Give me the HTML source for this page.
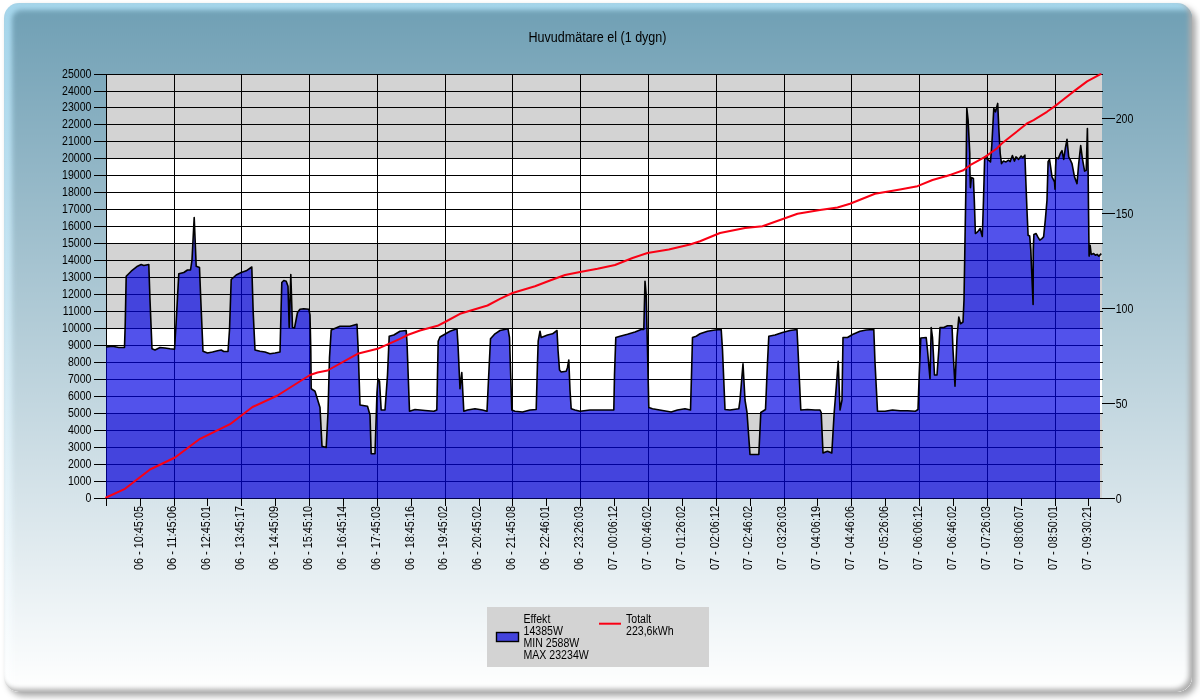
<!DOCTYPE html>
<html><head><meta charset="utf-8"><title>Huvudmätare el (1 dygn)</title>
<style>
html,body{margin:0;padding:0;background:#fff;}
body{width:1200px;height:700px;position:relative;overflow:hidden;font-family:"Liberation Sans",sans-serif;}
#frame{position:absolute;left:4px;top:3px;width:1188px;height:689px;border-radius:15px;overflow:hidden;
 background:linear-gradient(#a5d6ec,#ffffff);}
#shadow{position:absolute;left:4px;top:3px;width:1188px;height:689px;border-radius:15px;
 box-shadow:4px 4px 6px rgba(0,0,0,0.35);}
#inner{position:absolute;left:7.5px;top:7px;right:-30px;bottom:-30px;border-radius:9px 0 0 0;
 background:#fff linear-gradient(#6f9fb4,#ffffff) 0 -7px/100% 689px no-repeat;filter:blur(2.8px);}
#edge{position:absolute;left:4px;top:3px;width:1188px;height:689px;border-radius:15px;
 box-shadow:inset -3px -3px 5px rgb(172,172,172);}
svg{position:absolute;left:0;top:0;}
text{font-family:"Liberation Sans",sans-serif;fill:#000;}
.ax{font-size:12.3px;}
</style></head><body>
<div id="shadow"></div><div id="frame"><div id="inner"></div></div><div id="edge"></div>
<svg width="1200" height="700" viewBox="0 0 1200 700">
<rect x="106" y="74.0" width="996" height="84.0" fill="#d3d3d3"/>
<rect x="106" y="158.0" width="996" height="85.0" fill="#ffffff"/>
<rect x="106" y="243.0" width="996" height="85.0" fill="#d3d3d3"/>
<rect x="106" y="328.0" width="996" height="85.0" fill="#ffffff"/>
<rect x="106" y="413.0" width="996" height="86.0" fill="#d3d3d3"/>
<path d="M94 498.5H1103M94 481.5H1103M94 464.5H1103M94 447.5H1103M94 430.5H1103M94 413.5H1103M94 396.5H1103M94 379.5H1103M94 362.5H1103M94 345.5H1103M94 328.5H1103M94 311.5H1103M94 294.5H1103M94 277.5H1103M94 260.5H1103M94 243.5H1103M94 226.5H1103M94 209.5H1103M94 192.5H1103M94 175.5H1103M94 158.5H1103M94 141.5H1103M94 124.5H1103M94 107.5H1103M94 91.5H1103M94 74.5H1103M106.5 74V499M174.5 74V499M241.5 74V499M309.5 74V499M377.5 74V499M445.5 74V499M512.5 74V499M580.5 74V499M648.5 74V499M716.5 74V499M784.5 74V499M851.5 74V499M919.5 74V499M987.5 74V499M1055.5 74V499" stroke="#000" stroke-width="1" fill="none" shape-rendering="crispEdges"/>
<clipPath id="c"><rect x="106" y="70" width="994" height="429"/></clipPath>
<polygon points="106.2,498.5 106.2,347.0 112.5,346.2 118.8,347.5 124.5,347.5 125.2,325.0 126.2,276.2 131.2,271.2 137.5,266.2 141.2,264.5 143.8,265.5 148.8,264.5 150.0,300.0 152.0,348.8 155.0,350.0 160.0,347.5 165.0,348.0 170.0,348.8 174.5,349.2 176.0,325.0 177.5,297.5 178.8,273.8 183.8,272.5 187.5,270.0 190.5,270.0 192.0,260.0 194.2,217.5 196.2,266.2 199.5,267.5 200.8,300.0 203.0,351.2 207.5,353.0 212.5,352.0 217.5,350.8 221.2,350.0 223.8,351.5 228.0,351.5 229.5,330.0 231.2,279.5 236.2,275.0 241.2,272.5 246.2,270.8 251.8,267.0 253.2,312.5 255.0,350.0 260.0,351.2 265.0,352.0 270.0,353.8 275.0,353.0 280.0,352.0 281.0,312.5 281.8,282.5 283.8,280.5 286.2,281.2 288.0,286.2 289.2,327.5 290.8,274.5 292.5,327.5 294.5,328.0 297.5,312.5 300.0,309.2 303.8,308.8 308.8,309.2 310.0,315.0 310.8,350.0 311.2,388.8 315.0,391.2 320.0,407.5 322.0,446.2 326.2,447.5 328.0,412.5 329.5,357.5 331.2,330.0 340.0,326.2 350.0,326.2 357.0,324.2 358.2,350.0 360.0,405.0 367.5,406.2 370.0,415.0 371.2,453.8 375.0,453.8 377.0,392.5 378.0,378.8 379.5,381.2 381.2,410.0 385.0,410.0 387.5,375.0 389.2,336.2 393.8,335.0 400.0,331.2 406.2,330.5 407.0,342.5 409.5,411.2 415.0,409.5 425.0,410.5 433.8,411.2 436.8,410.0 437.5,375.0 438.2,341.2 440.0,337.0 450.0,331.2 457.0,328.8 458.0,345.0 460.0,388.8 461.8,372.5 463.8,411.2 467.5,410.0 475.0,408.8 482.5,410.0 487.0,411.2 488.0,390.0 490.5,338.8 495.0,333.8 500.0,330.5 508.0,328.8 509.5,337.5 511.8,410.0 515.0,411.2 522.5,412.0 530.0,410.0 536.2,409.5 537.5,362.5 538.2,341.2 540.0,331.2 541.2,337.5 547.5,335.0 552.5,333.8 557.0,330.5 558.0,350.0 559.5,370.0 561.2,372.0 566.2,371.2 567.5,367.5 568.8,360.0 570.0,390.0 571.2,408.8 575.0,410.0 580.0,411.2 590.0,410.0 600.0,410.0 607.5,410.0 613.8,410.0 614.5,375.0 615.8,337.5 620.0,336.2 627.5,334.2 635.0,332.0 641.2,329.5 643.8,329.5 645.0,281.2 646.2,295.0 647.5,350.0 648.8,407.5 652.5,408.8 662.5,410.5 671.2,412.0 677.5,410.0 685.0,408.8 690.5,410.0 691.5,375.0 692.5,337.5 696.2,336.2 700.0,333.8 707.5,331.2 715.0,330.0 721.2,329.5 722.5,350.0 725.0,409.5 730.0,410.0 738.8,408.8 740.0,400.0 743.0,363.8 745.0,400.0 747.0,412.5 750.0,454.5 758.8,454.5 760.8,412.5 765.5,409.5 767.5,362.5 768.8,336.2 775.0,335.0 782.5,332.5 790.0,330.5 797.0,329.5 798.0,350.0 800.8,410.0 807.5,409.5 815.0,410.0 820.0,410.0 821.2,412.5 823.0,453.0 827.5,451.2 831.8,453.0 834.2,412.5 836.2,387.5 838.2,361.2 840.0,410.0 842.0,400.0 843.0,337.5 847.5,337.5 852.5,334.5 860.0,331.2 866.2,330.0 873.8,329.5 875.0,362.5 877.5,411.2 885.0,411.2 892.5,410.0 900.0,410.8 907.5,410.8 915.5,411.2 918.0,409.5 919.2,375.0 920.8,338.0 926.2,337.5 927.5,350.0 930.0,378.8 931.2,327.5 932.5,337.5 934.5,375.0 937.0,375.0 938.8,350.0 940.0,327.5 943.8,327.5 947.5,325.8 952.0,325.8 953.0,350.0 955.0,386.2 957.0,337.5 958.8,317.0 960.5,323.8 963.0,322.0 964.0,300.0 965.9,187.0 966.8,108.1 968.1,120.1 969.8,153.5 969.8,166.7 970.4,187.6 971.4,177.6 973.4,178.4 974.3,200.1 975.4,233.5 977.6,231.9 980.1,228.5 982.3,236.5 983.5,200.1 984.6,160.0 985.1,156.7 987.6,159.4 990.5,161.9 991.8,145.2 993.8,108.4 995.5,111.8 997.7,103.4 998.8,128.5 1000.2,153.5 1001.5,163.6 1003.5,161.1 1006.0,161.9 1008.5,160.2 1010.2,161.6 1012.4,155.5 1014.4,161.1 1016.0,156.9 1018.6,159.4 1021.1,156.0 1022.7,157.7 1024.9,155.2 1025.6,175.1 1026.9,208.5 1028.1,235.2 1029.7,236.0 1030.8,250.3 1033.1,304.4 1033.3,250.3 1033.9,234.4 1036.1,233.5 1037.8,236.9 1039.8,240.2 1041.9,238.6 1043.6,236.9 1045.3,220.2 1047.0,200.1 1048.1,161.7 1049.5,159.4 1050.6,166.9 1052.0,176.9 1054.5,181.9 1055.0,189.3 1055.6,166.7 1056.1,157.7 1058.3,158.6 1060.3,153.5 1062.0,150.7 1063.7,159.4 1065.3,148.5 1067.0,139.3 1068.7,156.9 1070.4,160.2 1072.0,163.6 1074.5,176.9 1077.0,183.6 1078.7,163.6 1080.7,145.5 1082.4,158.6 1084.6,171.1 1086.2,170.3 1087.4,128.5 1088.1,170.3 1088.4,200.1 1089.1,256.1 1090.1,245.2 1091.2,254.4 1093.7,253.6 1095.4,255.3 1097.1,254.4 1098.8,256.1 1101.3,253.6 1101.3,498.5" fill="rgba(0,0,225,0.68)" stroke="none" clip-path="url(#c)"/>
<polyline points="106.2,347.0 112.5,346.2 118.8,347.5 124.5,347.5 125.2,325.0 126.2,276.2 131.2,271.2 137.5,266.2 141.2,264.5 143.8,265.5 148.8,264.5 150.0,300.0 152.0,348.8 155.0,350.0 160.0,347.5 165.0,348.0 170.0,348.8 174.5,349.2 176.0,325.0 177.5,297.5 178.8,273.8 183.8,272.5 187.5,270.0 190.5,270.0 192.0,260.0 194.2,217.5 196.2,266.2 199.5,267.5 200.8,300.0 203.0,351.2 207.5,353.0 212.5,352.0 217.5,350.8 221.2,350.0 223.8,351.5 228.0,351.5 229.5,330.0 231.2,279.5 236.2,275.0 241.2,272.5 246.2,270.8 251.8,267.0 253.2,312.5 255.0,350.0 260.0,351.2 265.0,352.0 270.0,353.8 275.0,353.0 280.0,352.0 281.0,312.5 281.8,282.5 283.8,280.5 286.2,281.2 288.0,286.2 289.2,327.5 290.8,274.5 292.5,327.5 294.5,328.0 297.5,312.5 300.0,309.2 303.8,308.8 308.8,309.2 310.0,315.0 310.8,350.0 311.2,388.8 315.0,391.2 320.0,407.5 322.0,446.2 326.2,447.5 328.0,412.5 329.5,357.5 331.2,330.0 340.0,326.2 350.0,326.2 357.0,324.2 358.2,350.0 360.0,405.0 367.5,406.2 370.0,415.0 371.2,453.8 375.0,453.8 377.0,392.5 378.0,378.8 379.5,381.2 381.2,410.0 385.0,410.0 387.5,375.0 389.2,336.2 393.8,335.0 400.0,331.2 406.2,330.5 407.0,342.5 409.5,411.2 415.0,409.5 425.0,410.5 433.8,411.2 436.8,410.0 437.5,375.0 438.2,341.2 440.0,337.0 450.0,331.2 457.0,328.8 458.0,345.0 460.0,388.8 461.8,372.5 463.8,411.2 467.5,410.0 475.0,408.8 482.5,410.0 487.0,411.2 488.0,390.0 490.5,338.8 495.0,333.8 500.0,330.5 508.0,328.8 509.5,337.5 511.8,410.0 515.0,411.2 522.5,412.0 530.0,410.0 536.2,409.5 537.5,362.5 538.2,341.2 540.0,331.2 541.2,337.5 547.5,335.0 552.5,333.8 557.0,330.5 558.0,350.0 559.5,370.0 561.2,372.0 566.2,371.2 567.5,367.5 568.8,360.0 570.0,390.0 571.2,408.8 575.0,410.0 580.0,411.2 590.0,410.0 600.0,410.0 607.5,410.0 613.8,410.0 614.5,375.0 615.8,337.5 620.0,336.2 627.5,334.2 635.0,332.0 641.2,329.5 643.8,329.5 645.0,281.2 646.2,295.0 647.5,350.0 648.8,407.5 652.5,408.8 662.5,410.5 671.2,412.0 677.5,410.0 685.0,408.8 690.5,410.0 691.5,375.0 692.5,337.5 696.2,336.2 700.0,333.8 707.5,331.2 715.0,330.0 721.2,329.5 722.5,350.0 725.0,409.5 730.0,410.0 738.8,408.8 740.0,400.0 743.0,363.8 745.0,400.0 747.0,412.5 750.0,454.5 758.8,454.5 760.8,412.5 765.5,409.5 767.5,362.5 768.8,336.2 775.0,335.0 782.5,332.5 790.0,330.5 797.0,329.5 798.0,350.0 800.8,410.0 807.5,409.5 815.0,410.0 820.0,410.0 821.2,412.5 823.0,453.0 827.5,451.2 831.8,453.0 834.2,412.5 836.2,387.5 838.2,361.2 840.0,410.0 842.0,400.0 843.0,337.5 847.5,337.5 852.5,334.5 860.0,331.2 866.2,330.0 873.8,329.5 875.0,362.5 877.5,411.2 885.0,411.2 892.5,410.0 900.0,410.8 907.5,410.8 915.5,411.2 918.0,409.5 919.2,375.0 920.8,338.0 926.2,337.5 927.5,350.0 930.0,378.8 931.2,327.5 932.5,337.5 934.5,375.0 937.0,375.0 938.8,350.0 940.0,327.5 943.8,327.5 947.5,325.8 952.0,325.8 953.0,350.0 955.0,386.2 957.0,337.5 958.8,317.0 960.5,323.8 963.0,322.0 964.0,300.0 965.9,187.0 966.8,108.1 968.1,120.1 969.8,153.5 969.8,166.7 970.4,187.6 971.4,177.6 973.4,178.4 974.3,200.1 975.4,233.5 977.6,231.9 980.1,228.5 982.3,236.5 983.5,200.1 984.6,160.0 985.1,156.7 987.6,159.4 990.5,161.9 991.8,145.2 993.8,108.4 995.5,111.8 997.7,103.4 998.8,128.5 1000.2,153.5 1001.5,163.6 1003.5,161.1 1006.0,161.9 1008.5,160.2 1010.2,161.6 1012.4,155.5 1014.4,161.1 1016.0,156.9 1018.6,159.4 1021.1,156.0 1022.7,157.7 1024.9,155.2 1025.6,175.1 1026.9,208.5 1028.1,235.2 1029.7,236.0 1030.8,250.3 1033.1,304.4 1033.3,250.3 1033.9,234.4 1036.1,233.5 1037.8,236.9 1039.8,240.2 1041.9,238.6 1043.6,236.9 1045.3,220.2 1047.0,200.1 1048.1,161.7 1049.5,159.4 1050.6,166.9 1052.0,176.9 1054.5,181.9 1055.0,189.3 1055.6,166.7 1056.1,157.7 1058.3,158.6 1060.3,153.5 1062.0,150.7 1063.7,159.4 1065.3,148.5 1067.0,139.3 1068.7,156.9 1070.4,160.2 1072.0,163.6 1074.5,176.9 1077.0,183.6 1078.7,163.6 1080.7,145.5 1082.4,158.6 1084.6,171.1 1086.2,170.3 1087.4,128.5 1088.1,170.3 1088.4,200.1 1089.1,256.1 1090.1,245.2 1091.2,254.4 1093.7,253.6 1095.4,255.3 1097.1,254.4 1098.8,256.1 1101.3,253.6" fill="none" stroke="#000" stroke-width="1.6" stroke-linejoin="round"/>
<polyline points="106.2,497.5 125.0,488.8 150.0,469.5 175.0,457.5 200.0,438.8 230.0,424.2 252.5,407.0 277.5,395.5 310.0,375.0 317.5,372.5 327.5,370.5 357.5,353.8 377.5,348.8 400.0,338.8 407.5,335.0 420.0,330.5 437.5,325.8 445.0,322.0 460.0,313.8 472.5,310.0 487.5,305.5 500.0,298.8 512.5,293.0 535.0,286.2 550.0,280.5 565.0,275.0 580.0,272.0 597.5,268.8 615.0,265.0 632.5,258.0 647.5,253.0 668.8,249.5 690.0,244.5 700.0,241.2 720.0,233.0 745.0,228.0 762.5,226.2 780.0,220.0 797.5,213.8 820.0,210.0 837.5,207.5 850.0,203.8 875.0,193.8 900.0,189.5 917.5,186.2 932.5,180.0 950.0,175.0 946.7,176.1 963.4,170.3 970.1,165.2 985.1,156.9 996.8,148.5 1001.8,143.5 1013.5,134.3 1026.9,123.5 1033.6,120.1 1047.0,111.8 1055.3,105.9 1063.7,99.2 1075.4,90.1 1087.1,81.4 1100.6,74.2" fill="none" stroke="#fa0014" stroke-width="2" stroke-linejoin="round" stroke-linecap="round"/>
<path d="M106.5 498V506M140.5 498V506M174.5 498V506M207.5 498V506M241.5 498V506M275.5 498V506M309.5 498V506M343.5 498V506M377.5 498V506M411.5 498V506M445.5 498V506M479.5 498V506M512.5 498V506M546.5 498V506M580.5 498V506M614.5 498V506M648.5 498V506M682.5 498V506M716.5 498V506M750.5 498V506M784.5 498V506M817.5 498V506M851.5 498V506M885.5 498V506M919.5 498V506M953.5 498V506M987.5 498V506M1021.5 498V506M1055.5 498V506M1088.5 498V506M1102 498.5H1115M1102 403.5H1115M1102 308.5H1115M1102 213.5H1115M1102 118.5H1115" stroke="#000" stroke-width="1" fill="none" shape-rendering="crispEdges"/>
<text class="ax" transform="translate(91.5,502.3) scale(0.86,1)" text-anchor="end">0</text>
<text class="ax" transform="translate(91.5,485.3) scale(0.86,1)" text-anchor="end">1000</text>
<text class="ax" transform="translate(91.5,468.3) scale(0.86,1)" text-anchor="end">2000</text>
<text class="ax" transform="translate(91.5,451.3) scale(0.86,1)" text-anchor="end">3000</text>
<text class="ax" transform="translate(91.5,434.3) scale(0.86,1)" text-anchor="end">4000</text>
<text class="ax" transform="translate(91.5,417.3) scale(0.86,1)" text-anchor="end">5000</text>
<text class="ax" transform="translate(91.5,400.3) scale(0.86,1)" text-anchor="end">6000</text>
<text class="ax" transform="translate(91.5,383.3) scale(0.86,1)" text-anchor="end">7000</text>
<text class="ax" transform="translate(91.5,366.3) scale(0.86,1)" text-anchor="end">8000</text>
<text class="ax" transform="translate(91.5,349.3) scale(0.86,1)" text-anchor="end">9000</text>
<text class="ax" transform="translate(91.5,332.3) scale(0.86,1)" text-anchor="end">10000</text>
<text class="ax" transform="translate(91.5,315.3) scale(0.86,1)" text-anchor="end">11000</text>
<text class="ax" transform="translate(91.5,298.3) scale(0.86,1)" text-anchor="end">12000</text>
<text class="ax" transform="translate(91.5,281.3) scale(0.86,1)" text-anchor="end">13000</text>
<text class="ax" transform="translate(91.5,264.3) scale(0.86,1)" text-anchor="end">14000</text>
<text class="ax" transform="translate(91.5,247.3) scale(0.86,1)" text-anchor="end">15000</text>
<text class="ax" transform="translate(91.5,230.3) scale(0.86,1)" text-anchor="end">16000</text>
<text class="ax" transform="translate(91.5,213.3) scale(0.86,1)" text-anchor="end">17000</text>
<text class="ax" transform="translate(91.5,196.3) scale(0.86,1)" text-anchor="end">18000</text>
<text class="ax" transform="translate(91.5,179.3) scale(0.86,1)" text-anchor="end">19000</text>
<text class="ax" transform="translate(91.5,162.3) scale(0.86,1)" text-anchor="end">20000</text>
<text class="ax" transform="translate(91.5,145.3) scale(0.86,1)" text-anchor="end">21000</text>
<text class="ax" transform="translate(91.5,128.3) scale(0.86,1)" text-anchor="end">22000</text>
<text class="ax" transform="translate(91.5,111.3) scale(0.86,1)" text-anchor="end">23000</text>
<text class="ax" transform="translate(91.5,95.3) scale(0.86,1)" text-anchor="end">24000</text>
<text class="ax" transform="translate(91.5,78.3) scale(0.86,1)" text-anchor="end">25000</text>
<text class="ax" transform="translate(1115.7,503.3) scale(0.86,1)">0</text>
<text class="ax" transform="translate(1115.7,408.3) scale(0.86,1)">50</text>
<text class="ax" transform="translate(1115.7,313.3) scale(0.86,1)">100</text>
<text class="ax" transform="translate(1115.7,218.3) scale(0.86,1)">150</text>
<text class="ax" transform="translate(1115.7,123.3) scale(0.86,1)">200</text>
<text class="ax" transform="translate(143.0,570) rotate(-90)" textLength="64" lengthAdjust="spacingAndGlyphs">06 - 10:45:05</text>
<text class="ax" transform="translate(176.0,570) rotate(-90)" textLength="64" lengthAdjust="spacingAndGlyphs">06 - 11:45:06</text>
<text class="ax" transform="translate(210.0,570) rotate(-90)" textLength="64" lengthAdjust="spacingAndGlyphs">06 - 12:45:01</text>
<text class="ax" transform="translate(244.0,570) rotate(-90)" textLength="64" lengthAdjust="spacingAndGlyphs">06 - 13:45:17</text>
<text class="ax" transform="translate(278.0,570) rotate(-90)" textLength="64" lengthAdjust="spacingAndGlyphs">06 - 14:45:09</text>
<text class="ax" transform="translate(312.0,570) rotate(-90)" textLength="64" lengthAdjust="spacingAndGlyphs">06 - 15:45:10</text>
<text class="ax" transform="translate(346.0,570) rotate(-90)" textLength="64" lengthAdjust="spacingAndGlyphs">06 - 16:45:14</text>
<text class="ax" transform="translate(380.0,570) rotate(-90)" textLength="64" lengthAdjust="spacingAndGlyphs">06 - 17:45:03</text>
<text class="ax" transform="translate(414.0,570) rotate(-90)" textLength="64" lengthAdjust="spacingAndGlyphs">06 - 18:45:16</text>
<text class="ax" transform="translate(447.0,570) rotate(-90)" textLength="64" lengthAdjust="spacingAndGlyphs">06 - 19:45:02</text>
<text class="ax" transform="translate(481.0,570) rotate(-90)" textLength="64" lengthAdjust="spacingAndGlyphs">06 - 20:45:02</text>
<text class="ax" transform="translate(515.0,570) rotate(-90)" textLength="64" lengthAdjust="spacingAndGlyphs">06 - 21:45:08</text>
<text class="ax" transform="translate(549.0,570) rotate(-90)" textLength="64" lengthAdjust="spacingAndGlyphs">06 - 22:46:01</text>
<text class="ax" transform="translate(583.0,570) rotate(-90)" textLength="64" lengthAdjust="spacingAndGlyphs">06 - 23:26:03</text>
<text class="ax" transform="translate(617.0,570) rotate(-90)" textLength="64" lengthAdjust="spacingAndGlyphs">07 - 00:06:12</text>
<text class="ax" transform="translate(651.0,570) rotate(-90)" textLength="64" lengthAdjust="spacingAndGlyphs">07 - 00:46:02</text>
<text class="ax" transform="translate(685.0,570) rotate(-90)" textLength="64" lengthAdjust="spacingAndGlyphs">07 - 01:26:02</text>
<text class="ax" transform="translate(719.0,570) rotate(-90)" textLength="64" lengthAdjust="spacingAndGlyphs">07 - 02:06:12</text>
<text class="ax" transform="translate(752.0,570) rotate(-90)" textLength="64" lengthAdjust="spacingAndGlyphs">07 - 02:46:02</text>
<text class="ax" transform="translate(786.0,570) rotate(-90)" textLength="64" lengthAdjust="spacingAndGlyphs">07 - 03:26:03</text>
<text class="ax" transform="translate(820.0,570) rotate(-90)" textLength="64" lengthAdjust="spacingAndGlyphs">07 - 04:06:19</text>
<text class="ax" transform="translate(854.0,570) rotate(-90)" textLength="64" lengthAdjust="spacingAndGlyphs">07 - 04:46:06</text>
<text class="ax" transform="translate(888.0,570) rotate(-90)" textLength="64" lengthAdjust="spacingAndGlyphs">07 - 05:26:06</text>
<text class="ax" transform="translate(922.0,570) rotate(-90)" textLength="64" lengthAdjust="spacingAndGlyphs">07 - 06:06:12</text>
<text class="ax" transform="translate(956.0,570) rotate(-90)" textLength="64" lengthAdjust="spacingAndGlyphs">07 - 06:46:02</text>
<text class="ax" transform="translate(990.0,570) rotate(-90)" textLength="64" lengthAdjust="spacingAndGlyphs">07 - 07:26:03</text>
<text class="ax" transform="translate(1023.0,570) rotate(-90)" textLength="64" lengthAdjust="spacingAndGlyphs">07 - 08:06:07</text>
<text class="ax" transform="translate(1057.0,570) rotate(-90)" textLength="64" lengthAdjust="spacingAndGlyphs">07 - 08:50:01</text>
<text class="ax" transform="translate(1091.0,570) rotate(-90)" textLength="64" lengthAdjust="spacingAndGlyphs">07 - 09:30:21</text>
<text x="528.5" y="42" font-size="14px" textLength="138" lengthAdjust="spacingAndGlyphs">Huvudmätare el (1 dygn)</text>
<rect x="487" y="607" width="222" height="60" fill="#d3d3d3"/>
<rect x="496.5" y="632.5" width="22" height="9" fill="#4343dc" stroke="#000" stroke-width="1.4"/>
<text class="ax" transform="translate(523.5,622.8) scale(0.86,1)">Effekt</text>
<text class="ax" transform="translate(523.5,634.8) scale(0.86,1)">14385W</text>
<text class="ax" transform="translate(523.5,646.8) scale(0.86,1)">MIN 2588W</text>
<text class="ax" transform="translate(523.5,658.8) scale(0.86,1)">MAX 23234W</text>
<path d="M599 623.7H621" stroke="#fa0014" stroke-width="2"/>
<text class="ax" transform="translate(626,622.8) scale(0.86,1)">Totalt</text>
<text class="ax" transform="translate(626,634.8) scale(0.86,1)">223,6kWh</text>
</svg></body></html>
